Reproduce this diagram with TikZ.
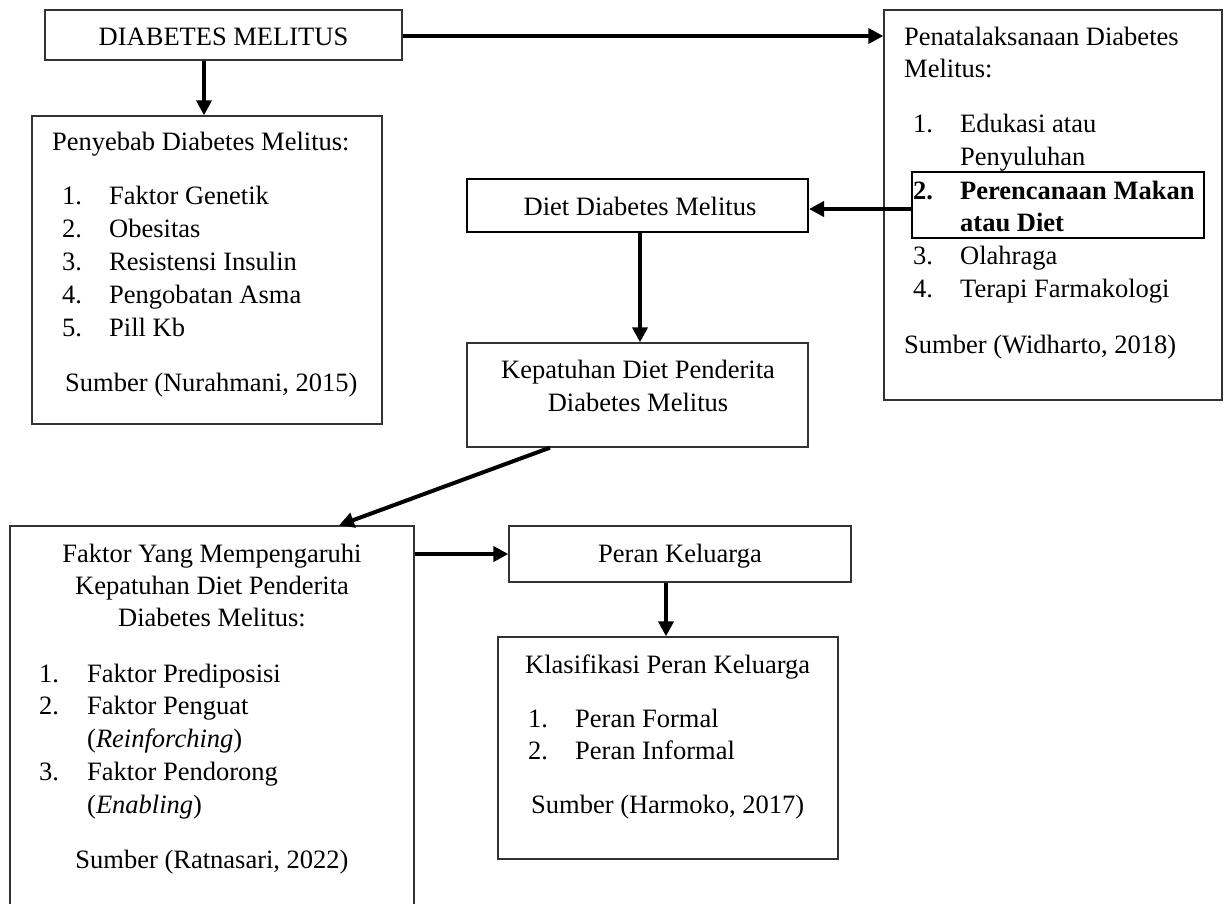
\documentclass[tikz,border=0pt]{standalone}
\usepackage{fontspec}
\setmainfont{Liberation Serif}
\usetikzlibrary{arrows.meta}
\begin{document}
\begin{tikzpicture}[x=1pt,y=-1pt,
  box/.style={draw=black!80, line width=1.3pt, inner sep=0pt},
  thickbox/.style={draw=black, line width=2pt, inner sep=0pt},
  hlbox/.style={draw=black, line width=2.6pt, inner sep=0pt},
  arr/.style={line width=4pt, -{Triangle[length=15pt,width=15pt]}},
  txt/.style={anchor=base west, inner sep=0pt, font=\fontsize{26.5}{33}\selectfont},
  ctxt/.style={anchor=base, inner sep=0pt, font=\fontsize{26.5}{33}\selectfont}]
\clip (0,0) rectangle (1224,903);
\fill[white] (0,0) rectangle (1224,903);

% boxes
\node[box, minimum width=357pt, minimum height=50pt] (dm) at (223.5,35) {};
\node[box, minimum width=350pt, minimum height=308pt] (peny) at (207,270) {};
\node[box, minimum width=338pt, minimum height=390pt] (pena) at (1053,205) {};
\node[hlbox, minimum width=292pt, minimum height=66pt] (hl) at (1058,205) {};
\node[thickbox, minimum width=341pt, minimum height=53pt] (diet) at (637.5,205.5) {};
\node[box, minimum width=341pt, minimum height=104pt] (kep) at (637.5,395) {};
\node[box, minimum width=404pt, minimum height=390pt] (fak) at (212,721) {};
\node[box, minimum width=342pt, minimum height=56pt] (peran) at (680,554) {};
\node[box, minimum width=340pt, minimum height=222pt] (klas) at (668,748) {};

% texts
\node[ctxt] (t1) at (223.5,45) {DIABETES MELITUS};

\node[txt] (t2) at (52,150) {Penyebab Diabetes Melitus:};
\node[txt] (t3a) at (62,204) {1.};
\node[txt] (t3b) at (109,204) {Faktor Genetik};
\node[txt] (t4a) at (62,237) {2.};
\node[txt] (t4b) at (109,237) {Obesitas};
\node[txt] (t5a) at (62,270) {3.};
\node[txt] (t5b) at (109,270) {Resistensi Insulin};
\node[txt] (t6a) at (62,303) {4.};
\node[txt] (t6b) at (109,303) {Pengobatan Asma};
\node[txt] (t7a) at (62,336) {5.};
\node[txt] (t7b) at (109,336) {Pill Kb};
\node[txt] (t8) at (65,391) {Sumber (Nurahmani, 2015)};

\node[txt] (p1) at (904,45) {Penatalaksanaan Diabetes};
\node[txt] (p2) at (904,77) {Melitus:};
\node[txt] (p3a) at (913,132) {1.};
\node[txt] (p3b) at (960,132) {Edukasi atau};
\node[txt] (p4) at (960,165) {Penyuluhan};
\node[txt, font=\fontsize{26.5}{33}\selectfont\bfseries] (p5a) at (913,199) {2.};
\node[txt, font=\fontsize{26.5}{33}\selectfont\bfseries] (p5b) at (960,199) {Perencanaan Makan};
\node[txt, font=\fontsize{26.5}{33}\selectfont\bfseries] (p6) at (960,231) {atau Diet};
\node[txt] (p7a) at (913,264) {3.};
\node[txt] (p7b) at (960,264) {Olahraga};
\node[txt] (p8a) at (913,297) {4.};
\node[txt] (p8b) at (960,297) {Terapi Farmakologi};
\node[txt] (p9) at (904,353) {Sumber (Widharto, 2018)};

\node[ctxt] (d1) at (640,215) {Diet Diabetes Melitus};
\node[ctxt] (k1) at (638,378) {Kepatuhan Diet Penderita};
\node[ctxt] (k2) at (638,411) {Diabetes Melitus};

\node[ctxt] (f1) at (212,562) {Faktor Yang Mempengaruhi};
\node[ctxt] (f2) at (212,594) {Kepatuhan Diet Penderita};
\node[ctxt] (f3) at (212,626) {Diabetes Melitus:};
\node[txt] (f4a) at (39,682) {1.};
\node[txt] (f4b) at (87,682) {Faktor Prediposisi};
\node[txt] (f5a) at (39,714) {2.};
\node[txt] (f5b) at (87,714) {Faktor Penguat};
\node[txt] (f6) at (87,747) {(\textit{Reinforching})};
\node[txt] (f7a) at (39,780) {3.};
\node[txt] (f7b) at (87,780) {Faktor Pendorong};
\node[txt] (f8) at (87,813) {(\textit{Enabling})};
\node[ctxt] (f9) at (212,868) {Sumber (Ratnasari, 2022)};

\node[ctxt] (r1) at (680,562) {Peran Keluarga};
\node[txt] (c1) at (525,673) {Klasifikasi Peran Keluarga};
\node[txt] (c2a) at (528,727) {1.};
\node[txt] (c2b) at (575,727) {Peran Formal};
\node[txt] (c3a) at (528,759) {2.};
\node[txt] (c3b) at (575,759) {Peran Informal};
\node[txt] (c4) at (531,813) {Sumber (Harmoko, 2017)};

% connectors
\coordinate (a0) at ([yshift=-1pt]dm.east);
\draw[arr] (a0) -- (a0 -| pena.west);
\coordinate (a1) at ([xshift=-19.5pt]dm.south);
\draw[arr] (a1) -- (a1 |- peny.north);
\coordinate (a2) at ([yshift=-4pt]hl.west);
\draw[arr] (a2) -- (a2 -| diet.east);
\coordinate (a3) at ([xshift=2.5pt]diet.south);
\draw[arr] (a3) -- (a3 |- kep.north);
\coordinate (a4s) at ([xshift=-87.5pt]kep.south);
\coordinate (a4e) at ([xshift=127pt]fak.north);
\draw[arr] (a4s) -- (a4e);
\coordinate (a5) at (peran.west -| fak.east);
\draw[arr] (a5) -- (peran.west);
\coordinate (a6) at ([xshift=-14pt]peran.south);
\draw[arr] (a6) -- (a6 |- klas.north);
\end{tikzpicture}
\end{document}
